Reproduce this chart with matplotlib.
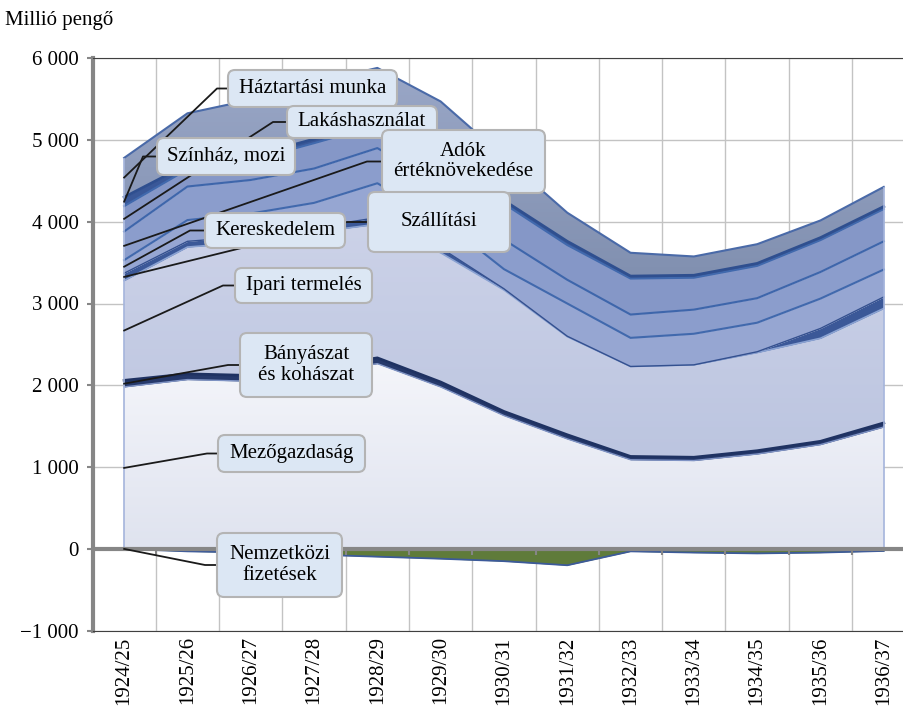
import numpy as np
import matplotlib.pyplot as plt
from matplotlib.patches import FancyBboxPatch
from matplotlib.lines import Line2D
from matplotlib.transforms import IdentityTransform
from matplotlib.colors import LinearSegmentedColormap

# ---- data (million pengő) ----
years = ['1924/25', '1925/26', '1926/27', '1927/28', '1928/29', '1929/30', '1930/31',
         '1931/32', '1932/33', '1933/34', '1934/35', '1935/36', '1936/37']

mezogazdasag = [1980, 2070, 2050, 2145, 2265, 1980, 1630, 1345, 1090, 1080, 1160, 1275, 1490]
banyaszat = [80, 70, 70, 70, 70, 60, 50, 50, 40, 40, 40, 40, 50]
ipari = [1220, 1550, 1630, 1655, 1635, 1580, 1485, 1200, 1100, 1130, 1200, 1260, 1400]
szallitasi = [90, 70, 70, 60, 80, 60, 15, 5, 0, 0, 10, 120, 140]
kereskedelem = [160, 260, 280, 300, 420, 350, 240, 400, 350, 380, 355, 365, 335]
adok = [350, 410, 410, 420, 430, 420, 360, 290, 285, 295, 300, 325, 345]
lakas = [310, 210, 240, 310, 280, 370, 440, 425, 440, 390, 395, 390, 395]
szinhaz = [110, 60, 50, 50, 50, 50, 40, 45, 30, 30, 30, 30, 30]
haztartasi = [480, 625, 690, 690, 650, 600, 530, 350, 285, 230, 235, 210, 240]
nemzetkozi = [0, -30, -45, -70, -95, -120, -150, -200, -30, -45, -55, -45, -25]

layer_names = ['Mezőgazdaság', 'Bányászat\nés kohászat', 'Ipari termelés', 'Szállítási',
               'Kereskedelem', 'Adók\nértéknövekedése', 'Lakáshasználat', 'Színház, mozi',
               'Háztartási munka']
layer_values = [mezogazdasag, banyaszat, ipari, szallitasi, kereskedelem, adok, lakas,
                szinhaz, haztartasi]
# fill: either a flat colour or a (bottom, top) vertical gradient
fills = [('#dfe3ef', '#f4f5fa'), '#26396b', ('#bcc5e0', '#ccd2e8'), '#3b5898', '#96a6d2',
         '#8b9dcc', '#8597c7', '#3a5898', ('#8190b0', '#9aa7c7')]
edges = ['#7f93c4', '#1f3262', '#8aa2d2', '#34508f', '#4169ad', '#3e66ab', '#4169ad',
         '#2f4f8f', '#4a6aa8']
edge_w = [1, 2, 1.2, 1, 1.5, 1.5, 1.5, 2, 1.5]

# label boxes in image pixels: left, top, right, bottom, knee of the leader line
boxes = {
    'Háztartási munka': (228, 70, 397, 107, 217),
    'Lakáshasználat': (287, 106, 437, 138, 273),
    'Színház, mozi': (157, 138, 295, 175, 143),
    'Adók\nértéknövekedése': (382, 130, 545, 193, 367),
    'Szállítási': (368, 192, 510, 252, 347),
    'Kereskedelem': (205, 213, 345, 248, 190),
    'Ipari termelés': (235, 268, 372, 303, 223),
    'Bányászat\nés kohászat': (240, 333, 372, 397, 228),
    'Mezőgazdaság': (218, 435, 365, 472, 207),
    'Nemzetközi\nfizetések': (217, 533, 342, 597, 205),
}

plt.rcParams['font.family'] = ['Liberation Serif', 'DejaVu Serif']
W, H = 904, 706
fig = plt.figure(figsize=(W / 100, H / 100), dpi=100)
ax = fig.add_axes([92.5 / W, (H - 630.7) / H, 822.9 / W, (630.7 - 58.1) / H])
XMIN, XMAX, YMIN, YMAX = -0.5, len(years) - 0.5, -1000, 6000

x = np.arange(len(years))
base = np.zeros(len(x))
mids = {}
for name, vals, fc, ec, lw in zip(layer_names, layer_values, fills, edges, edge_w):
    top = base + np.array(vals)
    if isinstance(fc, tuple):
        poly = ax.fill_between(x, base, top, color='none', lw=0, zorder=2)
        cmap = LinearSegmentedColormap.from_list('g', list(fc))
        lo, hi = base.min(), top.max()
        grad = np.linspace(1, 0, 256).reshape(-1, 1)
        im = ax.imshow(grad, cmap=cmap, extent=[XMIN, XMAX, lo, hi], aspect='auto',
                       interpolation='bilinear', zorder=2)
        im.set_clip_path(poly.get_paths()[0], transform=ax.transData)
    else:
        ax.fill_between(x, base, top, color=fc, lw=0, zorder=2)
    ax.plot(x, top, color=ec, lw=lw, zorder=3, solid_joinstyle='round')
    mids[name] = (base[0] + top[0]) / 2
    base = top
total = base
ax.vlines([x[0], x[-1]], 0, [total[0], total[-1]], color='#a4b4dc', lw=1.2, zorder=3)

neg = np.array(nemzetkozi)
ax.fill_between(x, 0, neg, color='#5f7b3a', lw=0, zorder=2)
ax.plot(x, neg, color='#3c5a9a', lw=1.3, zorder=3)
mids['Nemzetközi\nfizetések'] = neg[0] / 2

# axes, grid
ax.set_xlim(XMIN, XMAX)
ax.set_ylim(YMIN, YMAX)
yt = np.arange(-1000, 6001, 1000)
ax.set_yticks(yt)
ax.set_yticklabels([('−' if v < 0 else '') + f'{abs(v):,}'.replace(',', ' ') for v in yt],
                   fontsize=15)
ax.set_xticks(x)
ax.set_xticklabels(years, rotation=90, fontsize=15)
ax.set_xticks(np.arange(-0.5, len(years), 1), minor=True)
ax.tick_params(axis='x', which='both', length=0, pad=4)
ax.tick_params(axis='y', length=4, width=1.5, color='#868686', pad=6)
ax.grid(axis='y', color='#c3c3c3', lw=1, zorder=0)
ax.grid(axis='x', which='minor', color='#c3c3c3', lw=1, zorder=0)
ax.set_axisbelow(True)
ax.axhline(0, color='#868686', lw=3, zorder=4)
ax.vlines(np.arange(0.5, len(years), 1), -70, 0, color='#868686', lw=1.5, zorder=4)
ax.spines['left'].set_color('#868686')
ax.spines['left'].set_linewidth(3)
ax.spines['bottom'].set_color('#404040')
ax.spines['top'].set_color('#404040')
ax.spines['right'].set_visible(False)

fig.text(5 / W, 1 - 21 / H, 'Millió pengő', fontsize=15, va='center')

# labels with leader lines
ident = IdentityTransform()
for name, (l, t, r, b, knee) in boxes.items():
    cy = H - (t + b) / 2
    px, py = ax.transData.transform((0, mids[name]))
    fig.add_artist(Line2D([px, knee, (l + r) / 2], [py, cy, cy], color='#1a1a1a',
                          lw=1.3, transform=ident, zorder=5))
    fig.add_artist(FancyBboxPatch((l, H - b), r - l, b - t,
                                  boxstyle='round,pad=0,rounding_size=7',
                                  fc='#dce7f4', ec='#b4b4b4', lw=1.5,
                                  transform=ident, zorder=6))
    fig.text((l + r) / 2, cy, name, fontsize=15, ha='center', va='center',
             linespacing=1.1, transform=ident, zorder=7)

fig.savefig('out.png', dpi=100)
